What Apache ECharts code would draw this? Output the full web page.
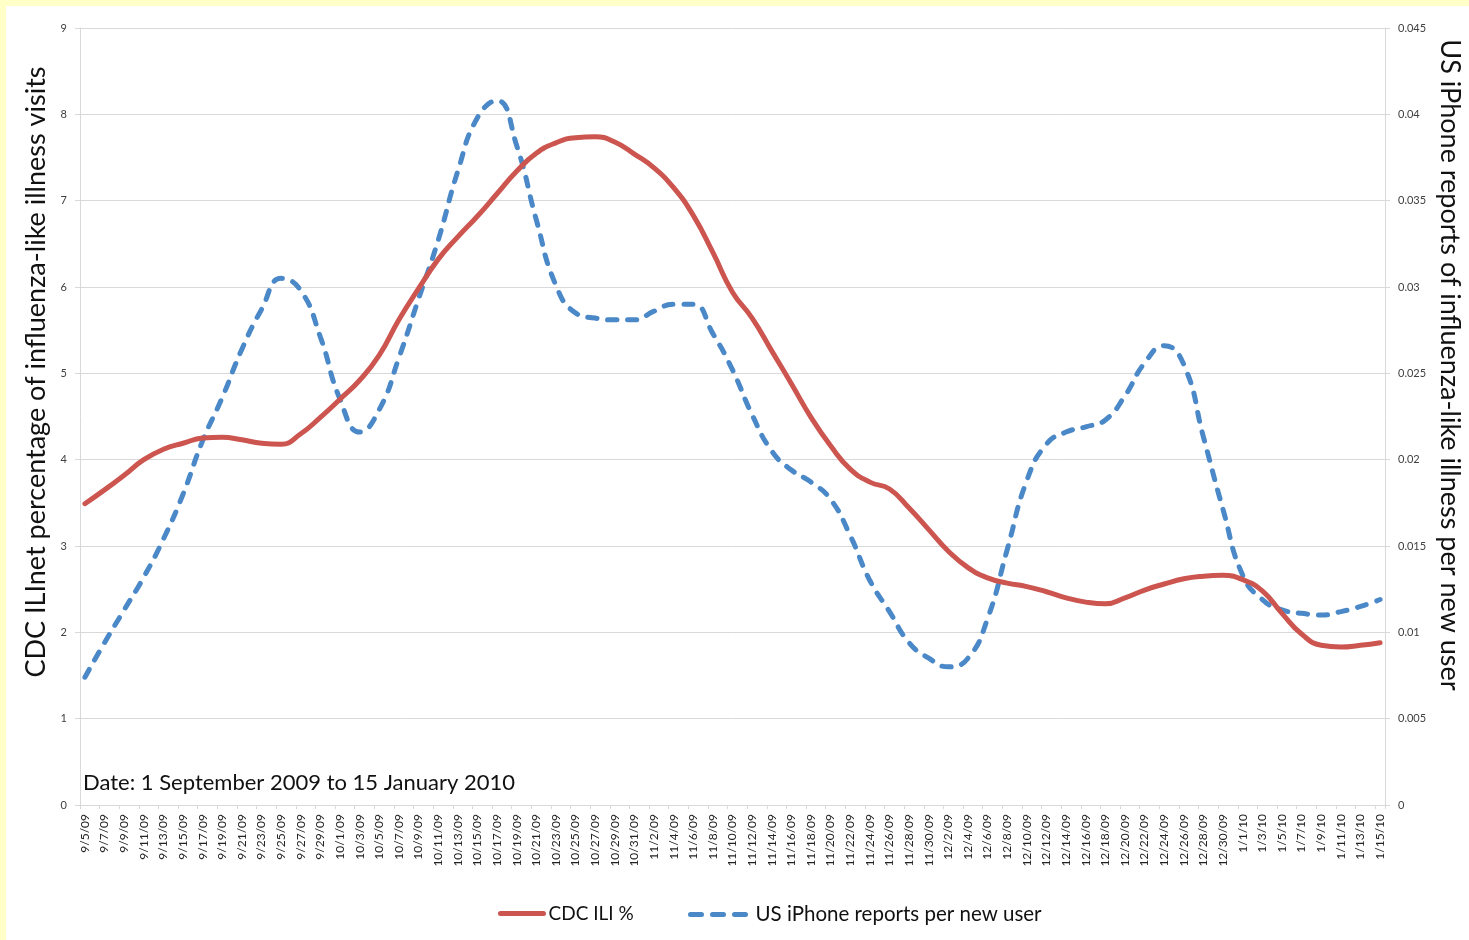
<!DOCTYPE html>
<html>
<head>
<meta charset="utf-8">
<script src="https://cdn.jsdelivr.net/npm/echarts@6/dist/echarts.min.js"></script>
<style>
  html, body { margin: 0; padding: 0; background: #ffffc8; }
  #chart { position: absolute; left: 6px; top: 6px; width: 1463px; height: 934px; background: #ffffff; }
</style>
</head>
<body>
<div id="chart"></div>
<script>
// ---- Data ----
// Daily categories 9/5/09 .. 1/15/10 (labels shown every other day)
const firstDay = [2009, 8, 5];
const dayCount = 133;
const dayLabels = [];
for (let i = 0; i < dayCount; i++) {
  const d = new Date(firstDay[0], firstDay[1], firstDay[2] + i);
  dayLabels.push((d.getMonth() + 1) + '/' + d.getDate() + '/' + String(d.getFullYear()).slice(2));
}
// values read at every labelled date (every 2 days)
const cdcIli = [
  3.49, 3.65, 3.82, 4.00, 4.12, 4.19, 4.25, 4.26, 4.23, 4.19,
  4.18, 4.30, 4.49, 4.70, 4.92, 5.21, 5.62, 5.98, 6.32, 6.58,
  6.82, 7.08, 7.34, 7.55, 7.67, 7.73, 7.74, 7.68, 7.54, 7.38,
  7.15, 6.83, 6.40, 5.94, 5.64, 5.26, 4.88, 4.49, 4.16, 3.89,
  3.74, 3.66, 3.44, 3.19, 2.94, 2.75, 2.63, 2.57, 2.53, 2.47,
  2.40, 2.35, 2.33, 2.40, 2.49, 2.56, 2.62, 2.65, 2.66, 2.61,
  2.48, 2.22, 1.98, 1.85, 1.83, 1.85, 1.88
];
const iphoneReports = [
  0.0074, 0.0094, 0.0113, 0.0132, 0.0154, 0.0180, 0.0211, 0.0236, 0.0264, 0.0287,
  0.0305, 0.0298, 0.0271, 0.0235, 0.0216, 0.0229, 0.0259, 0.0293, 0.0327, 0.0367,
  0.0398, 0.0408, 0.0382, 0.0339, 0.0301, 0.0285, 0.0282, 0.0281, 0.0281, 0.0286,
  0.0290, 0.0290, 0.0273, 0.0252, 0.0226, 0.0205, 0.0194, 0.0187, 0.0177, 0.0156,
  0.0130, 0.0112, 0.0094, 0.0085, 0.0080, 0.0085, 0.0108, 0.0148, 0.0188, 0.0209,
  0.0216, 0.0219, 0.0223, 0.0237, 0.0256, 0.0266, 0.0255, 0.0213, 0.0171, 0.0133,
  0.0119, 0.0113, 0.0111, 0.0110, 0.0112, 0.0115, 0.0119
];
const sampleStep = 2;

const seriesNames = ['CDC ILI %', 'US iPhone reports per new user'];
const leftAxisTitle = 'CDC ILInet percentage of influenza-like illness visits';
const rightAxisTitle = 'US iPhone reports of influenza-like illness per new user';
const noteText = 'Date: 1 September 2009 to 15 January 2010';

// ---- Chart ----
const FONT = 'Lato, "Open Sans", sans-serif';
const redColor = '#cc5550';
const blueColor = '#4a88c8';
const gridColor = '#d9d9d9';

const cdcData = cdcIli.map((v, k) => [k * sampleStep, v]);
const iphoneData = iphoneReports.map((v, k) => [k * sampleStep, v]);

const chart = echarts.init(document.getElementById('chart'), null, { renderer: 'canvas' });
chart.setOption({
  animation: false,
  backgroundColor: '#ffffff',
  textStyle: { fontFamily: FONT },
  grid: { left: 74, right: 84, top: 22, bottom: 135 },
  xAxis: {
    type: 'category',
    data: dayLabels,
    boundaryGap: true,
    axisLine: { show: true, lineStyle: { color: gridColor, width: 1 } },
    axisTick: { show: true, interval: 1, length: 4, lineStyle: { color: gridColor } },
    axisLabel: { interval: 1, rotate: 90, fontSize: 12, color: '#222', margin: 9, fontFamily: FONT },
    splitLine: { show: false }
  },
  yAxis: [
    {
      type: 'value', min: 0, max: 9, interval: 1, position: 'left',
      axisLine: { show: true, lineStyle: { color: gridColor } },
      axisTick: { show: true, length: 5, lineStyle: { color: gridColor } },
      axisLabel: { fontSize: 11, color: '#404040', margin: 13, fontFamily: FONT },
      splitLine: { show: true, lineStyle: { color: gridColor, width: 1 } }
    },
    {
      type: 'value', min: 0, max: 0.045, interval: 0.005, position: 'right',
      axisLine: { show: true, lineStyle: { color: gridColor } },
      axisTick: { show: true, length: 5, lineStyle: { color: gridColor } },
      axisLabel: { fontSize: 11, color: '#404040', margin: 13, fontFamily: FONT,
        formatter: v => String(Math.round(v * 1000) / 1000) },
      splitLine: { show: false }
    }
  ],
  legend: [
    {
      data: [seriesNames[0]], left: 492, top: 898, padding: 0, itemWidth: 43, itemHeight: 14, itemGap: 0,
      itemStyle: { opacity: 0 },
      lineStyle: { width: 5, cap: 'round' },
      textStyle: { fontSize: 19, color: '#111', fontFamily: FONT }
    },
    {
      data: [seriesNames[1]], left: 682, top: 898, padding: 0, itemWidth: 60, itemHeight: 14, itemGap: 0,
      itemStyle: { opacity: 0 },
      lineStyle: { width: 5, type: [11, 11], cap: 'round' },
      textStyle: { fontSize: 20.5, color: '#111', fontFamily: FONT }
    }
  ],
  series: [
    {
      name: seriesNames[0], type: 'line', yAxisIndex: 0, data: cdcData,
      smooth: 0.5, showSymbol: false, symbol: 'none',
      lineStyle: { color: redColor, width: 5, cap: 'round' },
      itemStyle: { color: redColor }, z: 3
    },
    {
      name: seriesNames[1], type: 'line', yAxisIndex: 1, data: iphoneData,
      smooth: 0.5, showSymbol: false, symbol: 'none',
      lineStyle: { color: blueColor, width: 5, type: [9, 11], cap: 'round' },
      itemStyle: { color: blueColor }, z: 2
    }
  ],
  graphic: [
    {
      type: 'text', x: 30, y: 366, rotation: Math.PI / 2,
      style: { text: leftAxisTitle, fontSize: 27, fontFamily: FONT, fill: '#111',
        align: 'center', verticalAlign: 'middle' }
    },
    {
      type: 'text', x: 1444, y: 359, rotation: -Math.PI / 2,
      style: { text: rightAxisTitle, fontSize: 27, fontFamily: FONT, fill: '#111',
        align: 'center', verticalAlign: 'middle' }
    },
    {
      type: 'text', x: 77, y: 777,
      style: { text: noteText, fontSize: 22, fontFamily: FONT, fill: '#111',
        align: 'left', verticalAlign: 'middle' }
    }
  ]
});
</script>
</body>
</html>
